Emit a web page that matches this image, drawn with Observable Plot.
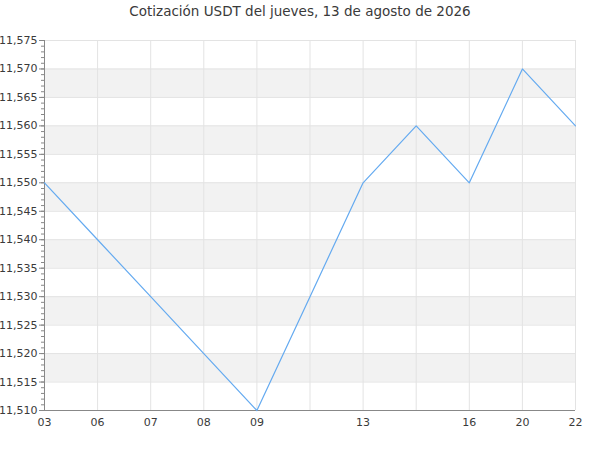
<!DOCTYPE html>
<html lang="es">
<head>
<meta charset="UTF-8">
<title>Cotización USDT</title>
<style>
  body { margin: 0; background: #ffffff; font-family: 'DejaVu Sans', sans-serif; }
  #titulo { height: 30px; line-height: 22px; text-align: center; font-size: 13.5px; color: #3a3a3a; }
</style>
</head>
<body>
<div id="titulo">Cotización USDT del jueves, 13 de agosto de 2026</div>
<div id="grafico"></div>

<script src="https://cdn.jsdelivr.net/npm/d3@7"></script>
<script src="https://cdn.jsdelivr.net/npm/@observablehq/plot@0.6"></script>
<script>
  // etiquetas del eje x (algunas posiciones sin etiqueta)
  const etiquetas = ["03", "06", "07", "08", "09", "", "13", "", "16", "20", "22"];
  const precios = [11.550, 11.540, 11.530, 11.520, 11.510, 11.530, 11.550, 11.560, 11.550, 11.570, 11.560];
  const yMin = 11.510, yMax = 11.575, paso = 0.005;

  const datos = precios.map((v, i) => ({i, v}));
  const marcasY = d3.range(0, 14).map(k => +(yMin + k * paso).toFixed(3));
  const bandas = marcasY.filter((t, k) => k % 2 === 1 && t < yMax).map(t => ({y1: t, y2: +(t + paso).toFixed(3)}));
  const menores = d3.range(0, 66).map(k => +(yMin + k * 0.001).toFixed(3));
  const fmt = v => v.toFixed(3).replace(".", ",");

  const plot = Plot.plot({
    width: 600,
    height: 410,
    marginTop: 10,
    marginLeft: 44,
    marginRight: 25,
    marginBottom: 30,
    style: { fontFamily: "'DejaVu Sans', sans-serif", fontSize: "11px", color: "#3a3a3a" },
    x: { domain: [0, etiquetas.length - 1] },
    y: { domain: [yMin, yMax] },
    marks: [
      Plot.rectY(bandas, { x1: 0, x2: etiquetas.length - 1, y1: "y1", y2: "y2", fill: "#f2f2f2" }),
      Plot.ruleY(marcasY.slice(1), { stroke: "#e3e3e3" }),
      Plot.ruleX(d3.range(1, etiquetas.length), { stroke: "#e3e3e3" }),
      Plot.axisX(d3.range(0, etiquetas.length), {
        tickFormat: i => etiquetas[i], tickSize: 0, tickPadding: 8, label: null, fill: "#3a3a3a"
      }),
      Plot.axisY(menores, { tickSize: 3, tickFormat: null, text: null, label: null, stroke: "#888888" }),
      Plot.axisY(marcasY, { tickSize: 5, tickFormat: fmt, tickPadding: 2, label: null, stroke: "#888888", fill: "#3a3a3a" }),
      Plot.ruleY([yMin], { stroke: "#888888" }),
      Plot.ruleX([0], { stroke: "#888888" }),
      Plot.line(datos, { x: "i", y: "v", stroke: "#64aaf0", strokeWidth: 1.2 })
    ]
  });
  document.querySelector("#grafico").append(plot);
</script>
</body>
</html>
